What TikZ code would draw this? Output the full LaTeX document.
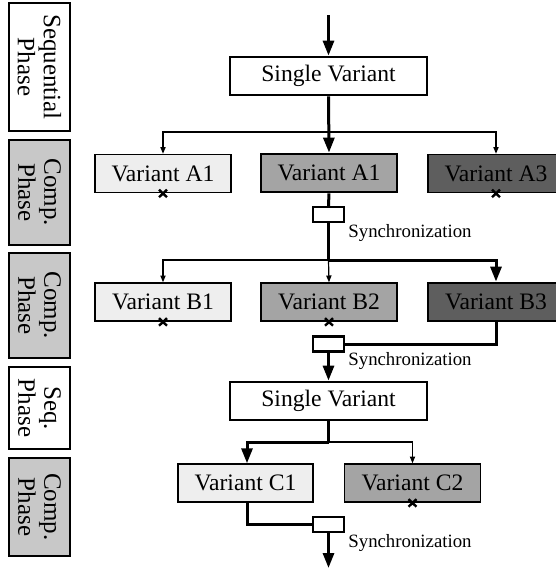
\documentclass[tikz,border=0pt]{standalone}
\usepackage{fontspec}
\setmainfont{Liberation Serif}
\usetikzlibrary{arrows.meta}
\definecolor{lightv}{HTML}{EEEEEE}
\definecolor{midv}{HTML}{A4A4A4}
\definecolor{darkv}{HTML}{5E5E5E}
\definecolor{phasegray}{HTML}{C8C8C8}
\tikzset{
  vbox/.style={draw, line width=0.7pt, inner sep=0pt, minimum width=68pt, minimum height=19pt,
    font=\fontsize{11.8}{13}\selectfont},
  thickbox/.style={line width=1.4pt},
  syncbox/.style={draw, fill=white, line width=1.1pt, inner sep=0pt, minimum width=15.5pt, minimum height=7.5pt},
  synclabel/.style={anchor=west, inner sep=0pt, font=\fontsize{9.4}{11}\selectfont},
  phasebox/.style={draw, line width=0.7pt, inner sep=0pt, minimum width=30.5pt},
  phasetext/.style={rotate=-90, align=center, inner sep=0pt, font=\fontsize{12.5}{13}\selectfont},
  thinline/.style={line width=0.6pt},
  thickline/.style={line width=1.5pt},
  thinarrow/.style={thinline, -{Triangle[width=2.6pt,length=3.4pt]}},
  thickarrow/.style={thickline, -{Triangle[width=5.5pt,length=7.5pt]}},
  crossmark/.style={line width=1.2pt}
}
\newcommand{\crossat}[1]{\draw[crossmark] ([shift={(-4,-3.5)}]#1) -- ([shift={(4,4)}]#1) ([shift={(-4,4)}]#1) -- ([shift={(4,-3.5)}]#1);}
\begin{document}
\begin{tikzpicture}[x=0.5pt,y=-0.5pt]
\useasboundingbox (0,0) rectangle (556,569);
% phase boxes
\node[phasebox, fill=white, minimum height=64pt] (p1) at (39.5,67) {};
\node[phasetext] at (p1) {Sequential\\Phase};
\node[phasebox, fill=phasegray, minimum height=52.5pt] (p2) at (39.5,192.5) {};
\node[phasetext] at (p2) {Comp.\\Phase};
\node[phasebox, fill=phasegray, minimum height=52.5pt] (p3) at (39.5,305.5) {};
\node[phasetext] at (p3) {Comp.\\Phase};
\node[phasebox, fill=white, minimum height=41pt] (p4) at (39.5,408) {};
\node[phasetext] at (p4) {Seq.\\Phase};
\node[phasebox, fill=phasegray, minimum height=49pt] (p5) at (39.5,507) {};
\node[phasetext] at (p5) {Comp.\\Phase};

% variant boxes
\node[vbox, thickbox, fill=white, minimum width=98.5pt] (sv1) at (328.5,76) {Single Variant};
\node[vbox, fill=lightv] (a1) at (163,173.5) {Variant A1};
\node[vbox, thickbox, fill=midv] (a2) at (329,173) {Variant A1};
\node[vbox, fill=darkv] (a3) at (496,173.5) {Variant A3};
\node[syncbox] (s1) at (328.5,214.5) {};
\node[synclabel] (l1) at (348,233) {Synchronization};

\node[vbox, fill=lightv] (b1) at (163,302) {Variant B1};
\node[vbox, fill=midv] (b2) at (329,302) {Variant B2};
\node[vbox, thickbox, fill=darkv] (b3) at (496,302) {Variant B3};
\node[syncbox] (s2) at (328.5,344) {};
\node[synclabel] (l2) at (348,361) {Synchronization};

\node[vbox, thickbox, fill=white, minimum width=98.5pt] (sv2) at (328.5,401) {Single Variant};
\node[vbox, fill=lightv, minimum width=67.5pt] (c1) at (245.5,483) {Variant C1};
\node[vbox, fill=midv] (c2) at (412.5,483) {Variant C2};
\node[syncbox] (s3) at (328.5,524.5) {};
\node[synclabel] (l3) at (348,543) {Synchronization};

% coordinates
\coordinate (top) at (328.5,15);
\coordinate (j1) at (328.5,132);
\coordinate (j2) at (328.5,260);
\coordinate (j3) at (328.5,442);
\coordinate (bot) at (328.5,568);

% connectors
\draw[thickarrow] (top) -- (sv1.north);
\draw[thinarrow] (j1) -| (a1.north);
\draw[thinarrow] (j1) -| (a3.north);
\draw[thickarrow] (sv1.south) -- (a2.north);
\draw[thickline] (a2.south) -- (s1.north);
\draw[thickline] (s1.south) -- (j2);
\draw[thinarrow] (j2) -| (b1.north);
\draw[thinarrow] (j2) -- (b2.north);
\draw[thickarrow] (j2) -| (b3.north);
\draw[thickline] (b3.south) |- (s2.east);
\draw[thickarrow] (s2.south) -- (sv2.north);
\draw[thickline] (sv2.south) -- (j3);
\draw[thickarrow] (j3) -| ([xshift=0.75pt]c1.north);
\draw[thinarrow] (j3) -| (c2.north);
\draw[thickline] ([xshift=0.75pt]c1.south) |- (s3.west);
\draw[thickarrow] (s3.south) -- (bot);

% crosses
\crossat{a1.south}
\crossat{a3.south}
\crossat{b1.south}
\crossat{b2.south}
\crossat{c2.south}
\end{tikzpicture}
\end{document}
